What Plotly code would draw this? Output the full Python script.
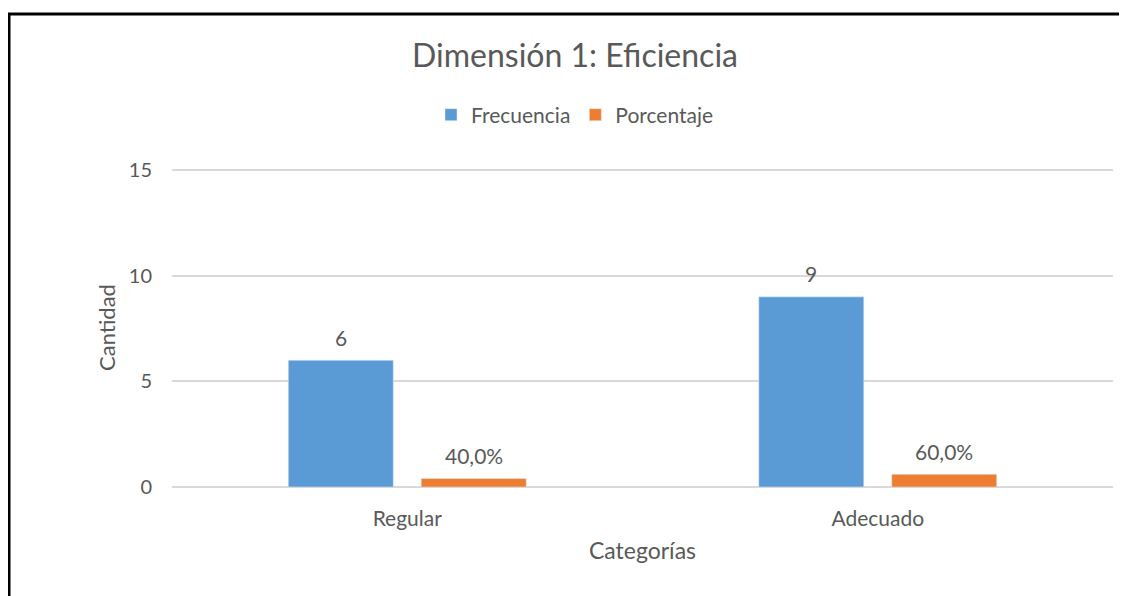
import plotly.graph_objects as go

categorias = ["Regular", "Adecuado"]
frecuencia = [6, 9]
porcentaje = [0.40, 0.60]
y_ticks = [0, 5, 10, 15]

# the page body adds an 8px margin, so the figure is a bit smaller than the window
W, H = 1119, 588
L, R, T, B = 164, 14, 160, 109
TXT = "#595959"
FONT = "Lato"
BARGAP, GROUPGAP = 0.435, 0.21


def pct_label(v):
    return f"{v * 100:.1f}%".replace(".", ",")


fig = go.Figure()
fig.add_trace(go.Bar(x=categorias, y=frecuencia, name="Frecuencia", marker_color="#5B9BD5"))
fig.add_trace(go.Bar(x=categorias, y=porcentaje, name="Porcentaje", marker_color="#ED7D31"))

# data labels, centred over each bar of the group
slot = (1 - BARGAP) / 2
for side, vals, labels in [(-1, frecuencia, [str(v) for v in frecuencia]),
                           (1, porcentaje, [pct_label(v) for v in porcentaje])]:
    for i, (v, lab) in enumerate(zip(vals, labels)):
        fig.add_annotation(x=i + side * slot / 2, y=v, text=lab, showarrow=False,
                           yanchor="middle", yshift=23, font=dict(size=21, color=TXT, family=FONT))

# black frame at top/left, like the cropped screenshot
pw, ph = W - L - R, H - T - B
x0 = (1 - L) / pw
y0 = 1 + (T - 6) / ph
x1 = (W + 10 - L) / pw
y1 = -(B + 10) / ph
fig.add_shape(type="path", xref="paper", yref="paper",
              path=f"M {x0} {y1} L {x0} {y0} L {x1} {y0}",
              line=dict(color="black", width=3))

fig.update_layout(
    width=W, height=H, margin=dict(l=L, r=R, t=T, b=B),
    paper_bgcolor="white", plot_bgcolor="white",
    font=dict(family=FONT, color=TXT, size=21),
    title=dict(text="Dimensión 1: Eficiencia", x=567 / W, xanchor="center",
               y=1 - 48 / H, yanchor="middle", font=dict(size=32, color=TXT)),
    legend=dict(orientation="h", x=567 / W, xref="container", xanchor="center",
                y=1 - 107 / H, yref="container", yanchor="middle",
                font=dict(size=21), itemwidth=30),
    barmode="group", bargap=BARGAP, bargroupgap=GROUPGAP,
    showlegend=True,
)
fig.update_xaxes(title=dict(text="Categorías", font=dict(size=23), standoff=13),
                 showline=False, ticks="", tickfont=dict(size=21), showgrid=False,
                 ticklabelstandoff=17)
fig.update_yaxes(title=dict(text="Cantidad", font=dict(size=22), standoff=7),
                 range=[0, 15.1], tickvals=y_ticks, showgrid=True, gridcolor="#D9D9D9",
                 gridwidth=1.5, zeroline=True, zerolinecolor="#D9D9D9", zerolinewidth=1.5,
                 ticks="", tickfont=dict(size=20), ticklabelstandoff=19)

fig.write_html("out.html")
